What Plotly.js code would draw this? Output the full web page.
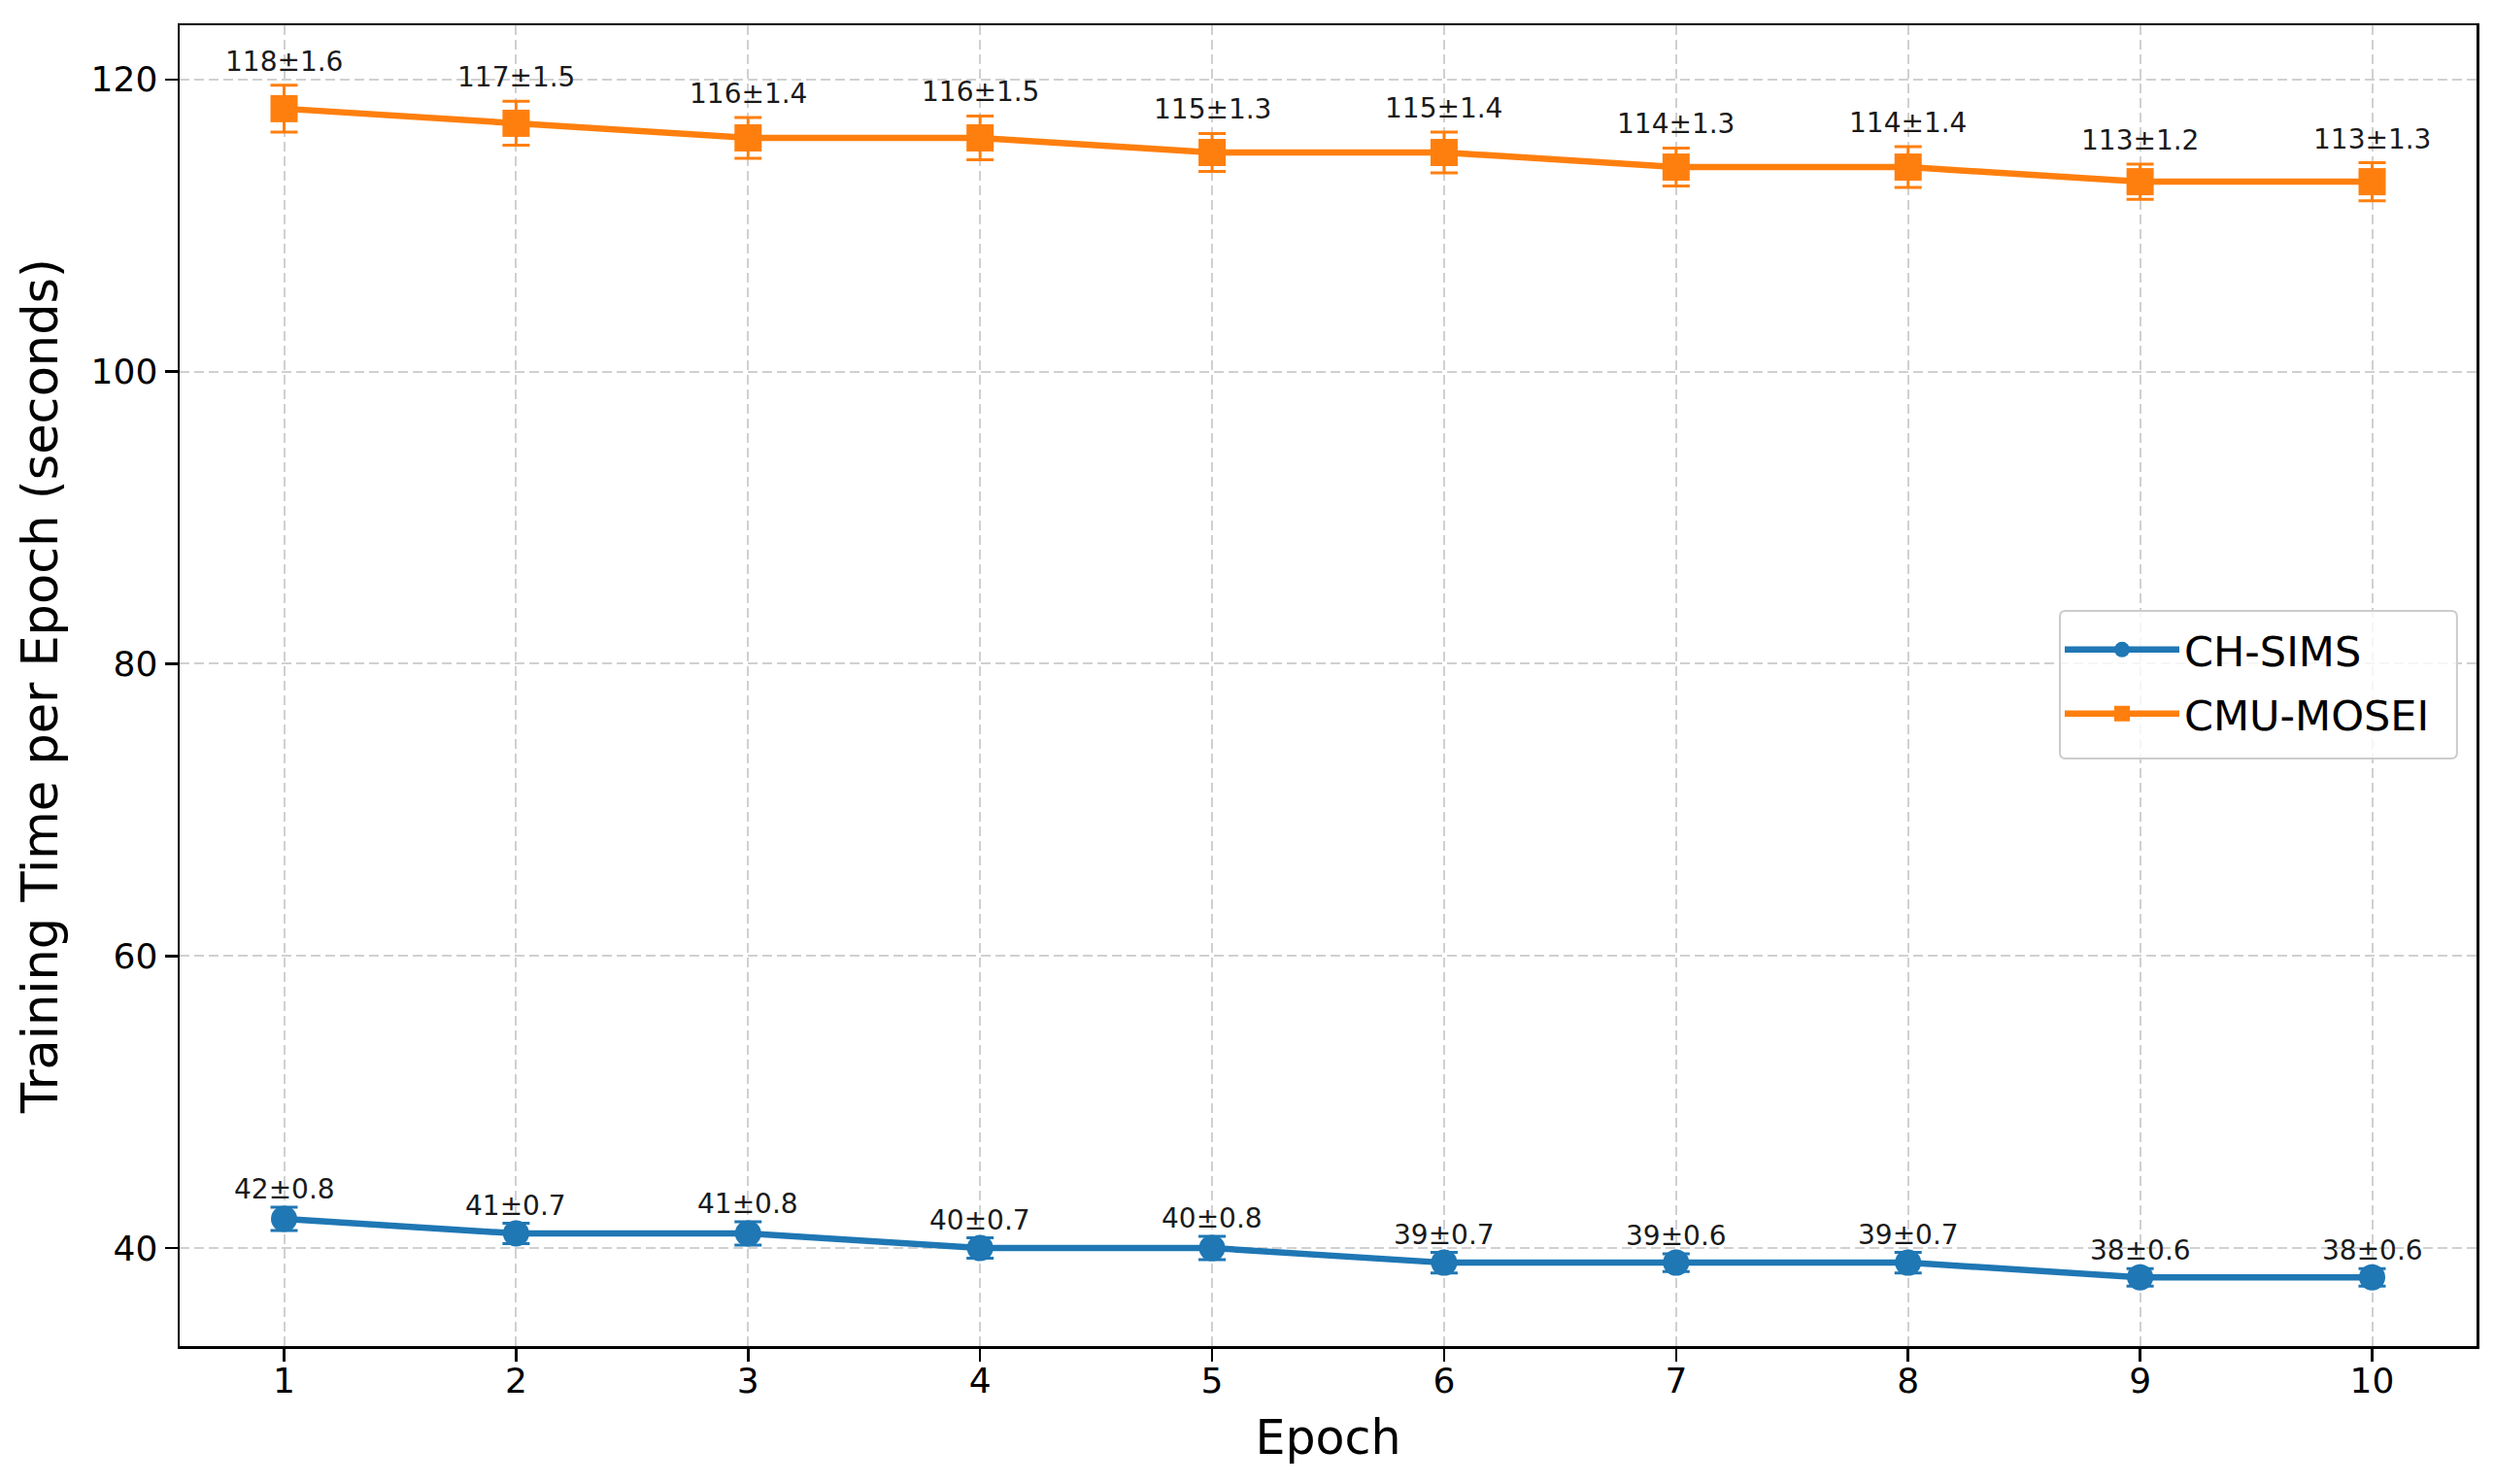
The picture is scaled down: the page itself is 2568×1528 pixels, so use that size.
<!DOCTYPE html>
<html>
<head>
<meta charset="utf-8">
<script src="https://cdn.plot.ly/plotly-3.0.1.min.js"></script>
<style>
  html, body { margin: 0; padding: 0; background: #fff; }
  #chart { width: 2568px; height: 1528px; }
</style>
</head>
<body>
<div id="chart"></div>
<script>
const epochs = [1, 2, 3, 4, 5, 6, 7, 8, 9, 10];

const simsTime = [42, 41, 41, 40, 40, 39, 39, 39, 38, 38];
const simsStd = [0.8, 0.7, 0.8, 0.7, 0.8, 0.7, 0.6, 0.7, 0.6, 0.6];

const moseiTime = [118, 117, 116, 116, 115, 115, 114, 114, 113, 113];
const moseiStd = [1.6, 1.5, 1.4, 1.5, 1.3, 1.4, 1.3, 1.4, 1.2, 1.3];

const seriesNames = ["CH-SIMS", "CMU-MOSEI"];

const blue = "#1f77b4";
const orange = "#ff7f0e";
const font = "DejaVu Sans, Liberation Sans, sans-serif";

const makeTrace = (name, y, err, color, symbol, size) => ({
    type: "scatter",
    mode: "lines+markers",
    name: name,
    legendgroup: name,
    x: epochs,
    y: y,
    error_y: {type: "data", array: err, visible: true, color: color, thickness: 3, width: 14},
    line: {color: color, width: 6.5},
    marker: {color: color, symbol: symbol, size: size}
});

const data = [
    makeTrace(seriesNames[0], simsTime, simsStd, blue, "circle", 27),
    makeTrace(seriesNames[1], moseiTime, moseiStd, orange, "square", 28)
];

// value ± std labels above each upper error cap
const labels = (y, err, shift) => y.map((v, i) => ({
    x: epochs[i],
    y: v + err[i],
    xref: "x",
    yref: "y",
    text: `${v}±${err[i]}`,
    showarrow: false,
    yanchor: "bottom",
    yshift: shift,
    font: {family: font, size: 28, color: "#1a1a1a"}
}));

// rounded legend frame (matplotlib style)
const roundBox = (x0, y0, x1, y1, rx, ry) =>
    `M${x0 + rx},${y0} L${x1 - rx},${y0} Q${x1},${y0} ${x1},${y0 + ry} ` +
    `L${x1},${y1 - ry} Q${x1},${y1} ${x1 - rx},${y1} L${x0 + rx},${y1} ` +
    `Q${x0},${y1} ${x0},${y1 - ry} L${x0},${y0 + ry} Q${x0},${y0} ${x0 + rx},${y0} Z`;

const layout = {
    width: 2568,
    height: 1528,
    margin: {l: 185, r: 18, t: 26, b: 142, pad: 0},
    paper_bgcolor: "#ffffff",
    plot_bgcolor: "#ffffff",
    font: {family: font, color: "#000"},
    showlegend: true,
    legend: {
        x: 0.8186, y: 0.503, xanchor: "left", yanchor: "middle",
        bgcolor: "rgba(0,0,0,0)",
        borderwidth: 0,
        traceorder: "grouped",
        tracegroupgap: 7,
        font: {family: font, size: 43, color: "#000"},
        itemwidth: 118
    },
    shapes: [{
        type: "path",
        xref: "paper", yref: "paper",
        path: roundBox(0.8186, 0.4449, 0.9915, 0.5566, 0.0025, 0.0044),
        fillcolor: "rgba(255,255,255,0.8)",
        line: {color: "#cccccc", width: 2},
        layer: "above"
    }],
    xaxis: {
        range: [0.55, 10.45],
        tickvals: epochs,
        ticks: "outside", ticklen: 13, tickwidth: 2.5, tickcolor: "#000",
        ticklabelstandoff: -11,
        tickfont: {family: font, size: 36, color: "#000"},
        showline: true, linecolor: "#000", linewidth: 2.5, mirror: true,
        showgrid: true, gridcolor: "#d0d0d0", gridwidth: 2, griddash: "10px,5px",
        zeroline: false,
        title: {text: "Epoch", font: {family: font, size: 49, color: "#000"}, standoff: 22}
    },
    yaxis: {
        range: [33.29, 123.71],
        tickvals: [40, 60, 80, 100, 120],
        ticks: "outside", ticklen: 13, tickwidth: 2.5, tickcolor: "#000",
        tickfont: {family: font, size: 36, color: "#000"},
        showline: true, linecolor: "#000", linewidth: 2.5, mirror: true,
        showgrid: true, gridcolor: "#d0d0d0", gridwidth: 2, griddash: "10px,5px",
        zeroline: false,
        title: {text: "Training Time per Epoch (seconds)", font: {family: font, size: 51, color: "#000"}, standoff: 18}
    },
    annotations: [
        ...labels(simsTime, simsStd, 0),
        ...labels(moseiTime, moseiStd, 6)
    ]
};

Plotly.newPlot("chart", data, layout, {staticPlot: true});
</script>
</body>
</html>
